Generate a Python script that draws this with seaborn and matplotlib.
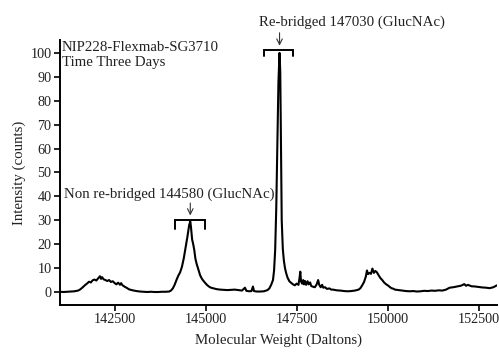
import matplotlib
matplotlib.use("Agg")
import matplotlib.pyplot as plt
import seaborn as sns
import pandas as pd

mass = [141000, 141100, 141200, 141300, 141400, 141500, 141550, 141600, 141650, 141700,
        141750, 141800, 141850, 141900, 141950, 142000, 142050, 142100, 142130, 142160,
        142200, 142250, 142300, 142350, 142400, 142450, 142500, 142550, 142600, 142650,
        142680, 142720, 142780, 142850, 142900, 143000, 143100, 143200, 143300, 143400,
        143500, 143600, 143700, 143800, 143900, 144000, 144050, 144100, 144150, 144200,
        144250, 144300, 144350, 144400, 144450, 144500, 144550, 144580, 144600, 144630,
        144660, 144690, 144720, 144750, 144800, 144850, 144900, 144950, 145000, 145050,
        145100, 145150, 145200, 145300, 145400, 145500, 145600, 145700, 145800, 145900,
        146000, 146080, 146120, 146200, 146260, 146300, 146330, 146400, 146500, 146600,
        146700, 146750, 146800, 146850, 146880, 146910, 146940, 146970, 147000, 147030,
        147050, 147070, 147090, 147100, 147120, 147150, 147180, 147210, 147250, 147300,
        147350, 147400, 147450, 147500, 147550, 147580, 147600, 147620, 147650, 147680,
        147700, 147730, 147760, 147800, 147830, 147870, 147900, 147950, 148000, 148050,
        148090, 148120, 148160, 148200, 148230, 148280, 148330, 148400, 148450, 148500,
        148600, 148700, 148800, 148900, 149000, 149100, 149200, 149250, 149300, 149350,
        149400, 149430, 149460, 149500, 149540, 149580, 149620, 149660, 149700, 149750,
        149800, 149850, 149900, 149950, 150000, 150050, 150100, 150150, 150200, 150300,
        150400, 150500, 150600, 150700, 150800, 150900, 151000, 151100, 151200, 151300,
        151400, 151500, 151600, 151700, 151800, 151900, 152000, 152050, 152100, 152150,
        152200, 152300, 152400, 152500, 152600, 152700, 152800, 152900, 153000]

intensity = [0.1, 0.0, 0.1, 0.2, 0.3, 0.6, 1.0, 1.6, 2.3, 3.0,
             3.6, 4.3, 4.0, 4.9, 5.2, 4.8, 5.7, 6.6, 5.5, 6.2,
             5.3, 5.0, 4.6, 5.0, 4.2, 4.5, 3.8, 3.2, 3.9, 3.0,
             3.7, 2.8, 2.2, 1.6, 1.1, 0.7, 0.4, 0.2, 0.1, 0.0,
             0.1, 0.0, 0.0, 0.1, 0.1, 0.2, 0.6, 1.5, 3.0, 5.0,
             6.8, 8.2, 10.5, 14.0, 18.5, 23.0, 28.0, 29.5, 27.0, 22.0,
             20.0, 17.5, 14.0, 12.0, 9.5, 7.0, 5.5, 4.5, 3.6, 2.8,
             2.2, 1.8, 1.6, 1.2, 1.0, 0.9, 0.8, 0.9, 1.0, 0.8,
             0.6, 1.8, 0.5, 0.3, 0.4, 2.3, 0.4, 0.2, 0.2, 0.3,
             0.8, 1.5, 3.0, 5.0, 9.0, 17.5, 35.0, 62.0, 88.0, 100.0,
             92.0, 60.0, 30.0, 26.0, 18.0, 13.0, 10.0, 8.0, 6.0, 4.5,
             3.8, 3.2, 2.8, 3.5, 3.0, 6.0, 8.5, 4.5, 3.5, 5.0,
             3.2, 4.6, 3.0, 4.5, 3.2, 4.0, 2.5, 2.2, 2.0, 3.2,
             5.0, 3.0, 2.0, 3.0, 1.8, 2.0, 1.3, 1.5, 1.0, 1.0,
             0.7, 0.6, 0.4, 0.3, 0.4, 0.6, 1.0, 1.6, 2.8, 4.2,
             6.5, 9.0, 7.5, 8.0, 7.6, 9.8, 8.0, 8.8, 8.3, 7.0,
             5.8, 5.0, 4.0, 3.3, 2.8, 2.2, 1.6, 1.4, 1.0, 0.8,
             0.6, 0.4, 0.3, 0.4, 0.2, 0.3, 0.5, 0.4, 0.6, 0.5,
             0.7, 0.6, 1.0, 1.8, 2.0, 2.3, 2.6, 2.9, 3.3, 2.6,
             3.0, 2.4, 2.3, 2.1, 1.9, 1.8, 1.6, 2.0, 2.8]

x_ticks = [142500, 145000, 147500, 150000, 152500]
y_ticks = [0, 10, 20, 30, 40, 50, 60, 70, 80, 90, 100]

sample_lines = ["NIP228-Flexmab-SG3710", "Time Three Days"]
peak_labels = ["Non re-bridged 144580 (GlucNAc)", "Re-bridged 147030 (GlucNAc)"]
peak_positions = [144580, 147030]

sns.set_style("ticks")
plt.rcParams["font.family"] = ["Liberation Serif", "DejaVu Serif"]

fig = plt.figure(figsize=(4.99, 3.60), dpi=100)
ax = fig.add_axes([0.120, 0.153, 0.876, 0.736])

df = pd.DataFrame({"mass": mass, "intensity": intensity})
sns.lineplot(data=df, x="mass", y="intensity", ax=ax, color="black", linewidth=1.5)

ax.set_xlim(141000, 153000)
ax.set_ylim(-5.4, 105.4)
ax.set_xticks(x_ticks)
ax.set_xticklabels([str(t) for t in x_ticks])
ax.set_yticks(y_ticks)
ax.set_yticklabels([str(t) for t in y_ticks])
ax.tick_params(axis="both", direction="out", length=4, width=1.2,
               labelsize=10.2, color="black", labelcolor="#222222", pad=2)
for s in ["top", "right"]:
    ax.spines[s].set_visible(False)
for s in ["left", "bottom"]:
    ax.spines[s].set_linewidth(1.4)
    ax.spines[s].set_color("black")

ax.set_xlabel("Molecular Weight (Daltons)", fontsize=10.7, labelpad=5, color="#222222")
ax.set_ylabel("Intensity (counts)", fontsize=10.7, labelpad=3, color="#222222")

ax.text(141060, 104.8, sample_lines[0] + "\n" + sample_lines[1], fontsize=10.7,
        va="top", ha="left", linespacing=1.18, color="#222222")

# peak annotations
cfg = [
    dict(tx=141100, ty=40.8, arrow_top=37.2, arrow_bot=32.0, bx0=144160, bx1=144985, by=30.1, leg=3.6),
    dict(tx=146480, ty=112.6, arrow_top=108.4, arrow_bot=103.0, bx0=146600, bx1=147400, by=101.3, leg=2.7),
]
for label, pos, c in zip(peak_labels, peak_positions, cfg):
    ax.text(c["tx"], c["ty"], label, fontsize=10.7, va="center", ha="left",
            clip_on=False, color="#222222")
    ax.annotate("", xy=(pos, c["arrow_bot"]), xytext=(pos, c["arrow_top"]),
                arrowprops=dict(arrowstyle="->", lw=0.8, color="#333333",
                                shrinkA=0, shrinkB=0), annotation_clip=False)
    ax.plot([c["bx0"], c["bx0"], c["bx1"], c["bx1"]],
            [c["by"] - c["leg"], c["by"], c["by"], c["by"] - c["leg"]],
            color="black", lw=1.4, clip_on=False, solid_joinstyle="miter")

fig.savefig("out.png", dpi=100)
